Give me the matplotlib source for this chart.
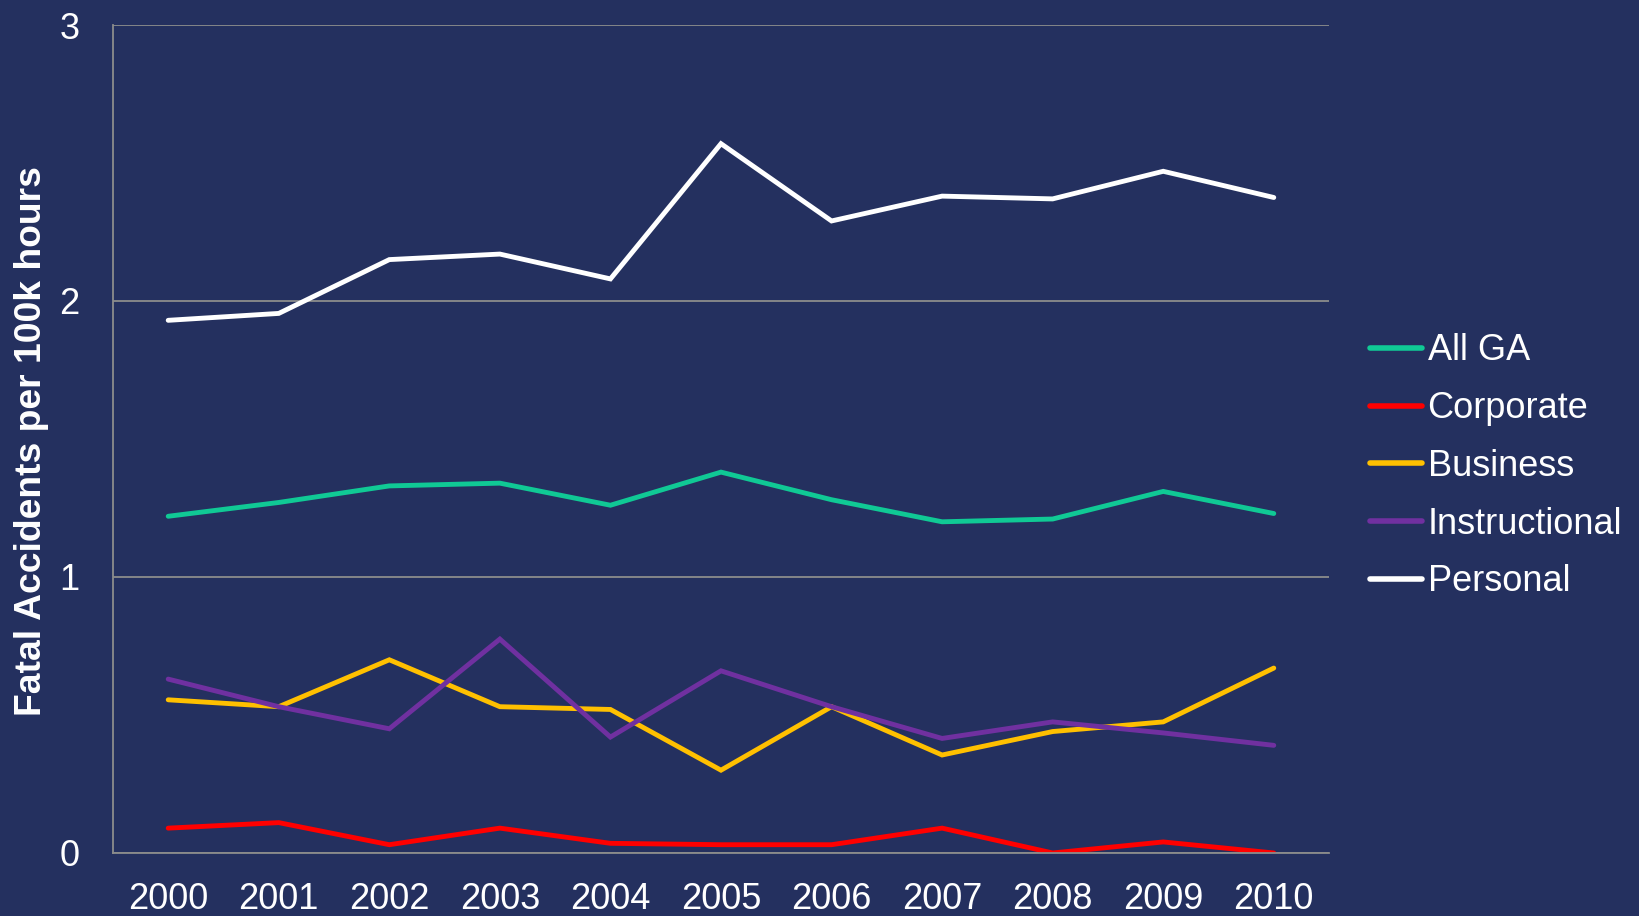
import matplotlib.pyplot as plt

plt.rcParams['font.family'] = ['Liberation Sans', 'DejaVu Sans']

years = ['2000', '2001', '2002', '2003', '2004', '2005',
         '2006', '2007', '2008', '2009', '2010']
all_ga = [1.22, 1.27, 1.33, 1.34, 1.26, 1.38, 1.28, 1.20, 1.21, 1.31, 1.23]
corporate = [0.09, 0.11, 0.03, 0.09, 0.035, 0.03, 0.03, 0.09, 0.0, 0.04, 0.0]
business = [0.555, 0.53, 0.70, 0.53, 0.52, 0.30, 0.53, 0.355, 0.44, 0.475, 0.67]
instructional = [0.63, 0.53, 0.45, 0.775, 0.42, 0.66, 0.53, 0.415, 0.475, 0.435, 0.39]
personal = [1.93, 1.955, 2.15, 2.17, 2.08, 2.57, 2.29, 2.38, 2.37, 2.47, 2.375]

series = [('All GA', all_ga, '#10c995'),
          ('Corporate', corporate, '#ff0000'),
          ('Business', business, '#ffc000'),
          ('Instructional', instructional, '#7030a0'),
          ('Personal', personal, '#ffffff')]

bg = '#24305f'
grid_col = '#8c8c8c'

fig = plt.figure(figsize=(16.39, 9.16), dpi=100, facecolor=bg)
ax = fig.add_axes([0.0689, 0.0688, 0.742, 0.9039])
ax.set_facecolor(bg)

x = range(len(years))
for name, vals, col in series:
    ax.plot(x, vals, color=col, linewidth=3.5, label=name,
            solid_joinstyle='miter', solid_capstyle='round')

ax.set_xlim(-0.5, len(years) - 0.5)
ax.set_ylim(0, 3)
ax.set_yticks([0, 1, 2, 3])
ax.set_xticks(list(x))
ax.set_xticklabels(years)
ax.yaxis.grid(True, color=grid_col, linewidth=1.3)
ax.set_axisbelow(True)

for s in ['top', 'right']:
    ax.spines[s].set_visible(False)
for s in ['left', 'bottom']:
    ax.spines[s].set_color(grid_col)
    ax.spines[s].set_linewidth(1.3)

ax.tick_params(axis='x', length=0, pad=21, labelsize=26, labelcolor='white')
ax.tick_params(axis='y', length=0, pad=24, labelsize=26, labelcolor='white')

fig.text(0.019, 0.519, 'Fatal Accidents per 100k hours', rotation=90,
         ha='center', va='center', color='white', fontsize=26.8,
         fontweight='bold')

leg = ax.legend(loc='upper left', bbox_to_anchor=(0.836, 0.636),
                bbox_transform=fig.transFigure, frameon=False,
                fontsize=26, handlelength=1.44, handletextpad=0.15,
                labelspacing=0.63, borderpad=0, borderaxespad=0)
for t in leg.get_texts():
    t.set_color('white')
for h in leg.get_lines():
    h.set_linewidth(4)

fig.savefig('out.png', dpi=100, facecolor=bg)
